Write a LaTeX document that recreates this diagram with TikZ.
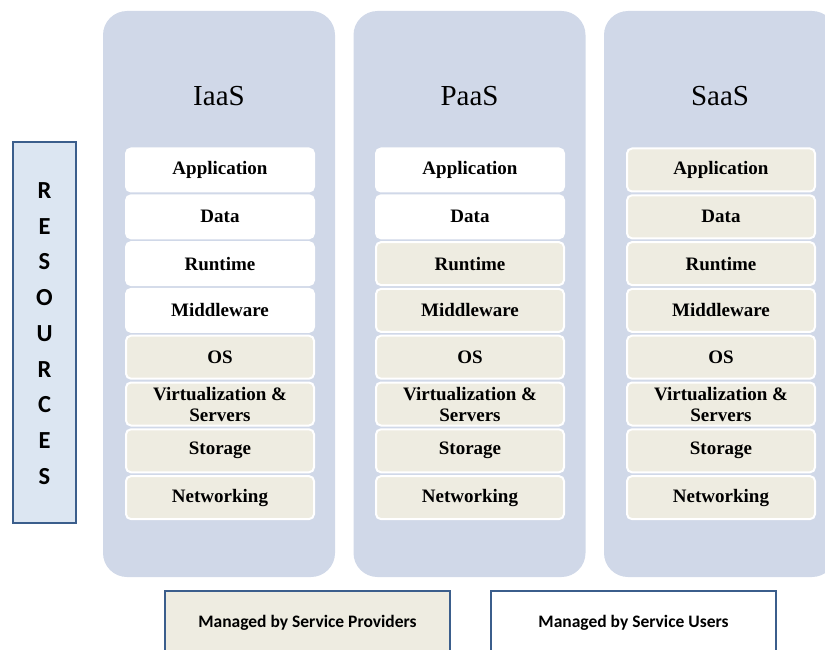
\documentclass[tikz,border=0pt]{standalone}
\usepackage{fontspec}
\setmainfont{Liberation Serif}
\newfontfamily\calibri{Carlito}
\usepackage{tikz}
\definecolor{colfill}{HTML}{D0D8E8}
\definecolor{provfill}{HTML}{EEECE1}
\definecolor{resfill}{HTML}{DCE6F2}
\definecolor{resline}{HTML}{3B5E8C}
\tikzset{
  column/.style={fill=colfill, rounded corners=24pt, minimum width=232pt, minimum height=566pt, inner sep=0pt},
  heading/.style={font=\fontsize{29}{30}\selectfont},
  layer/.style={draw=white, line width=2pt, rounded corners=5pt, minimum width=188pt, minimum height=43pt,
    inner sep=0pt, align=center, font=\fontsize{19}{21}\selectfont\bfseries},
  provider/.style={layer, fill=provfill},
  user/.style={layer, fill=white},
  legend/.style={draw=resline, line width=2pt, minimum width=285pt, minimum height=64pt,
    font=\calibri\fontsize{17.5}{19}\selectfont\bfseries}
}

\begin{document}
\begin{tikzpicture}[x=1pt, y=-1pt]
  \useasboundingbox (0,0) rectangle (825,650);
  \clip (0,0) rectangle (825,650);

  % resources bar
  \node[draw=resline, fill=resfill, line width=2pt, minimum width=63pt, minimum height=381pt] (res) at (44.5,332.5) {};
  \node[align=center, font=\calibri\fontsize{24.5}{35.7}\selectfont\bfseries] (reslabel) at (44.5,333.5)
    {R\\E\\S\\O\\U\\R\\C\\E\\S};

  % the three columns
  \node[column] (iaas) at (219,294) {};
  \node[column] (paas) at (469.5,294) {};
  \node[column] (saas) at (720,294) {};
  \node[heading] (iaas-h) at (219,96) {IaaS};
  \node[heading] (paas-h) at (469.5,96) {PaaS};
  \node[heading] (saas-h) at (720,96) {SaaS};

  % layers: the first \n rows are managed by the users
  \foreach \col/\x/\n in {iaas/220/4, paas/470/2, saas/721/0} {
    \foreach \name [count=\i] in {Application, Data, Runtime, Middleware, OS,
        {Virtualization \&\\Servers}, Storage, Networking} {
      \ifnum\i>\n \def\kind{provider}\else \def\kind{user}\fi
      \node[\kind] (\col-\i) at (\x,{170+46.8*(\i-1)}) {\name};
    }
  }

  % legend
  \node[legend, fill=provfill] (prov) at (307.5,623) {Managed by Service Providers};
  \node[legend, fill=white] (user) at (633.5,623) {Managed by Service Users};
\end{tikzpicture}
\end{document}
